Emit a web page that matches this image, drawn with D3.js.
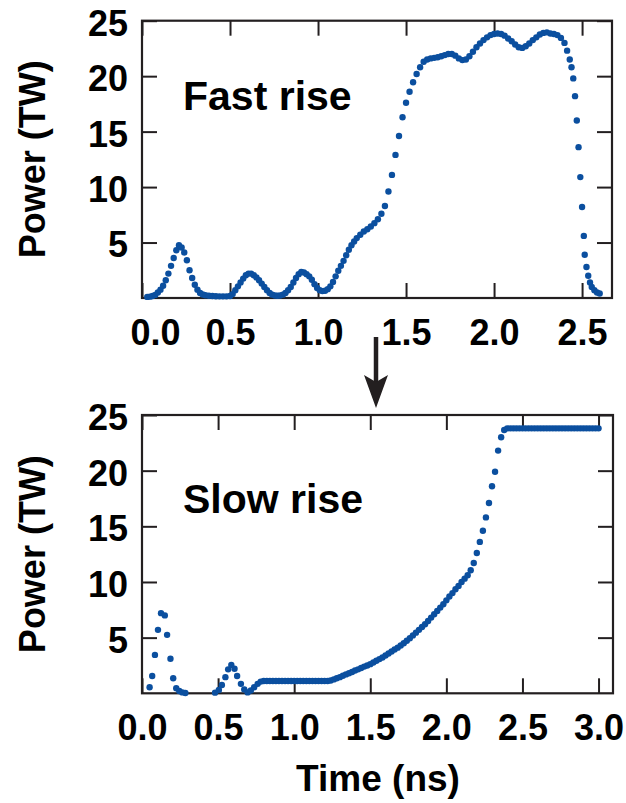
<!DOCTYPE html>
<html>
<head>
<meta charset="utf-8">
<script src="https://cdn.jsdelivr.net/npm/d3@7"></script>
<style>
  body { margin: 0; background: #fff; }
  svg text { font-family: "Liberation Sans", Arial, Helvetica, sans-serif; font-weight: bold; fill: #000; }
</style>
</head>
<body>
<svg id="chart" width="626" height="803"></svg>
<script>
// [time (ns), power (TW)]
var fastRise = [
  [0.03,0.10],[0.045,0.12],[0.06,0.18],[0.075,0.28],[0.09,0.5],[0.105,0.75],[0.12,1.1],[0.135,1.6],
  [0.15,2.2],[0.165,2.9],[0.18,3.6],[0.195,4.3],[0.21,4.75],[0.225,4.55],[0.24,4.1],[0.255,3.4],
  [0.27,2.5],[0.285,1.8],[0.30,1.2],[0.315,0.75],[0.33,0.45],[0.345,0.32],[0.36,0.25],[0.38,0.2],
  [0.40,0.18],[0.42,0.16],[0.44,0.15],[0.46,0.15],[0.48,0.15],[0.50,0.18],[0.515,0.35],[0.53,0.7],
  [0.545,1.05],[0.56,1.4],[0.575,1.75],[0.59,2.05],[0.605,2.2],[0.62,2.2],[0.635,2.05],[0.65,1.85],
  [0.665,1.6],[0.68,1.3],[0.695,1.0],[0.71,0.7],[0.725,0.45],[0.74,0.3],[0.755,0.22],[0.77,0.2],
  [0.785,0.22],[0.80,0.3],[0.815,0.45],[0.83,0.7],[0.845,1.0],[0.86,1.4],[0.875,1.8],[0.89,2.15],
  [0.905,2.35],[0.92,2.3],[0.935,2.15],[0.95,1.95],[0.965,1.65],[0.98,1.25],[0.995,0.9],[1.01,0.7],
  [1.025,0.62],[1.04,0.65],[1.055,0.8],[1.07,1.05],[1.085,1.45],[1.10,1.95],[1.115,2.45],[1.13,2.9],
  [1.145,3.35],[1.16,3.85],[1.175,4.35],[1.19,4.75],[1.205,5.1],[1.22,5.4],[1.24,5.7],[1.26,6.0],
  [1.28,6.2],[1.30,6.45],[1.32,6.75],[1.34,7.1],[1.36,7.6],[1.38,8.3],[1.40,9.6],[1.42,11.1],
  [1.44,12.9],[1.46,14.6],[1.48,16.3],[1.50,17.6],[1.52,18.6],[1.54,19.45],[1.56,20.2],[1.58,20.8],
  [1.60,21.3],[1.62,21.5],[1.64,21.6],[1.66,21.65],[1.68,21.7],[1.70,21.8],[1.72,21.9],[1.74,22.0],
  [1.76,22.0],[1.78,21.85],[1.80,21.6],[1.82,21.45],[1.84,21.5],[1.86,21.8],[1.88,22.2],[1.90,22.6],
  [1.92,22.95],[1.94,23.25],[1.96,23.5],[1.98,23.7],[2.00,23.8],[2.02,23.85],[2.04,23.8],[2.06,23.65],
  [2.08,23.4],[2.10,23.15],[2.12,22.85],[2.14,22.6],[2.16,22.55],[2.18,22.7],[2.20,22.95],[2.22,23.25],
  [2.24,23.5],[2.26,23.75],[2.28,23.9],[2.30,23.95],[2.32,23.85],[2.34,23.8],[2.36,23.7],[2.38,23.45],
  [2.40,23.0],[2.415,22.3],[2.43,21.5],[2.44,20.8],[2.45,19.8],[2.46,18.2],[2.47,16.0],[2.48,13.6],
  [2.49,10.9],[2.50,8.2],[2.51,5.6],[2.515,3.9],[2.525,2.8],[2.535,2.0],[2.545,1.4],[2.555,1.0],
  [2.57,0.7],[2.585,0.5],[2.60,0.4]
];

var slowRise = [
  [0.05,0.55],[0.067,1.55],[0.085,3.45],[0.105,5.7],[0.125,7.2],[0.15,7.0],[0.165,5.25],[0.187,3.1],
  [0.205,1.35],[0.225,0.45],[0.245,0.2],[0.265,0.08],[0.285,0.03],
  [0.48,0.06],[0.505,0.3],[0.525,0.75],[0.548,1.45],[0.566,2.15],[0.587,2.55],[0.608,2.2],[0.625,1.55],
  [0.65,0.85],[0.672,0.35],[0.694,0.08],[0.715,0.25],[0.737,0.55],[0.76,0.85],[0.78,1.05],[0.80,1.1],
  [0.82,1.1],[0.84,1.1],[0.86,1.1],[0.88,1.1],[0.90,1.1],[0.92,1.1],[0.94,1.1],[0.96,1.1],
  [0.98,1.1],[1.00,1.1],[1.02,1.1],[1.04,1.1],[1.06,1.1],[1.08,1.1],[1.10,1.1],[1.12,1.1],
  [1.14,1.1],[1.16,1.1],[1.18,1.1],[1.20,1.1],[1.22,1.1],[1.24,1.15],[1.26,1.25],[1.28,1.35],
  [1.30,1.45],[1.32,1.57],[1.34,1.7],[1.36,1.8],[1.38,1.92],[1.40,2.05],[1.42,2.15],[1.44,2.27],
  [1.46,2.4],[1.48,2.5],[1.50,2.62],[1.52,2.77],[1.54,2.92],[1.56,3.07],[1.58,3.22],[1.60,3.4],
  [1.62,3.57],[1.64,3.75],[1.66,3.93],[1.68,4.1],[1.70,4.3],[1.72,4.5],[1.74,4.72],[1.76,4.95],
  [1.78,5.2],[1.80,5.45],[1.82,5.7],[1.84,5.95],[1.86,6.2],[1.88,6.5],[1.90,6.8],[1.92,7.1],
  [1.94,7.4],[1.96,7.7],[1.98,8.0],[2.00,8.35],[2.02,8.7],[2.04,9.0],[2.06,9.35],[2.08,9.65],
  [2.10,10.0],[2.12,10.3],[2.14,10.6],[2.16,11.05],[2.18,11.7],[2.20,12.6],[2.22,13.6],[2.24,14.6],
  [2.26,15.8],[2.28,17.1],[2.30,18.6],[2.32,19.9],[2.34,21.8],[2.36,23.0],[2.38,23.65],[2.40,23.8],
  [2.42,23.8],[2.44,23.8],[2.46,23.8],[2.48,23.8],[2.50,23.8],[2.52,23.8],[2.54,23.8],[2.56,23.8],
  [2.58,23.8],[2.60,23.8],[2.62,23.8],[2.64,23.8],[2.66,23.8],[2.68,23.8],[2.70,23.8],[2.72,23.8],
  [2.74,23.8],[2.76,23.8],[2.78,23.8],[2.80,23.8],[2.82,23.8],[2.84,23.8],[2.86,23.8],[2.88,23.8],
  [2.90,23.8],[2.92,23.8],[2.94,23.8],[2.96,23.8],[2.98,23.8],[3.00,23.8]
];

var yTicks = [5, 10, 15, 20, 25];
var fastXTicks = [0, 0.5, 1.0, 1.5, 2.0, 2.5];
var slowXTicks = [0, 0.5, 1.0, 1.5, 2.0, 2.5, 3.0];

var dotColor = "#0b4f9f";
var ink = "#231f20";
var svg = d3.select("#chart");

function panel(data, xMax, xTicks, box, label) {
  var x = d3.scaleLinear().domain([0, xMax]).range([box.left, box.right]);
  var y = d3.scaleLinear().domain([0, 25]).range([box.bottom, box.top]);
  var g = svg.append("g");

  // inner ticks on all four sides
  var xb = g.append("g").attr("transform", "translate(0," + box.bottom + ")")
    .call(d3.axisBottom(x).tickValues(xTicks).tickSize(-15).tickPadding(21).tickFormat(d3.format(".1f")));
  g.append("g").attr("transform", "translate(0," + box.top + ")")
    .call(d3.axisTop(x).tickValues(xTicks).tickSize(-15).tickFormat(""));
  var yl = g.append("g").attr("transform", "translate(" + box.left + ",0)")
    .call(d3.axisLeft(y).tickValues(yTicks).tickSize(-15).tickPadding(14).tickFormat(d3.format("d")));
  g.append("g").attr("transform", "translate(" + box.right + ",0)")
    .call(d3.axisRight(y).tickValues(yTicks).tickSize(-15).tickFormat(""));

  g.selectAll(".domain").remove();
  g.selectAll(".tick line").attr("stroke", ink).attr("stroke-width", 2);
  g.selectAll(".tick text").style("font-size", "36px").attr("fill", "#000");
  yl.selectAll(".tick text").attr("dy", "0.4em");

  g.append("rect")
    .attr("x", box.left).attr("y", box.top)
    .attr("width", box.right - box.left).attr("height", box.bottom - box.top)
    .attr("fill", "none").attr("stroke", ink).attr("stroke-width", 2.2);

  g.append("g").selectAll("circle").data(data).enter().append("circle")
    .attr("cx", function(d) { return x(d[0]); })
    .attr("cy", function(d) { return y(d[1]); })
    .attr("r", 3.2)
    .attr("fill", dotColor);

  g.append("text").attr("x", box.left + 41).attr("y", box.labelY)
    .style("font-size", "41px").text(label);

  g.append("text")
    .attr("transform", "translate(45," + ((box.top + box.bottom) / 2) + ") rotate(-90)")
    .attr("text-anchor", "middle").style("font-size", "36px").text("Power (TW)");

  return xb;
}

var topAxis = panel(fastRise, 2.67, fastXTicks, {left: 142, right: 612, top: 20.7, bottom: 298, labelY: 110}, "Fast rise");
// the 0.0 label on the upper panel sits a bit to the right in the original
topAxis.selectAll(".tick text").filter(function(d) { return d === 0; }).attr("dx", 13);

panel(slowRise, 3.095, slowXTicks, {left: 142, right: 613, top: 415, bottom: 693.3, labelY: 513}, "Slow rise");

svg.append("text").attr("x", 378).attr("y", 791)
  .attr("text-anchor", "middle").style("font-size", "37px").text("Time (ns)");

// arrow between the panels
svg.append("line").attr("x1", 376).attr("y1", 337).attr("x2", 376).attr("y2", 386)
  .attr("stroke", ink).attr("stroke-width", 4.5);
svg.append("path").attr("d", "M376,408 L364,375 L376,382 L388,375 Z").attr("fill", ink);
</script>
</body>
</html>
